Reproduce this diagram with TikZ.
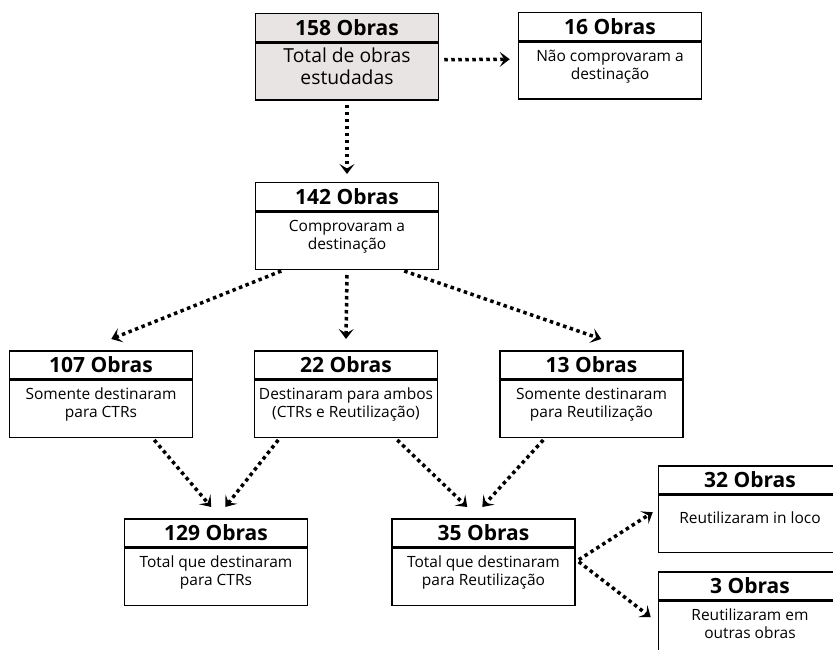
\documentclass[tikz,border=0pt]{standalone}
\usepackage{fontspec}
\setmainfont{Open Sans}
\usetikzlibrary{positioning,arrows.meta}

\definecolor{cinzaclaro}{RGB}{232,228,228}

\begin{document}
\begin{tikzpicture}[x=1pt, y=-1pt, line join=miter,
    cabeca/.style={draw, line width=1.5pt, minimum width=183pt, minimum height=28pt,
        inner sep=0pt, anchor=north, font=\bfseries\fontsize{21}{22}\selectfont},
    corpo/.style={draw, line width=1.5pt, minimum width=183pt, minimum height=57pt,
        inner sep=0pt, align=center, text depth=12pt, font=\fontsize{15.5}{18.5}\selectfont},
    seta/.style={line width=3.5pt, dash pattern=on 3.5pt off 3.5pt,
        -{Stealth[length=10pt, width=15pt, inset=4.5pt]}}]

    \useasboundingbox (0,0) rectangle (833,650);
    \clip (0,0) rectangle (833,650);

    % Obras estudadas
    \node[cabeca, fill=cinzaclaro] (h158) at (347,13) {158 Obras};
    \node[corpo, fill=cinzaclaro, below=0pt of h158, text depth=11pt, font=\fontsize{19.3}{22}\selectfont] (c158) {Total de obras\\estudadas};

    \node[cabeca] (h16) at (610,12) {16 Obras};
    \node[corpo, below=0pt of h16] (c16) {Não comprovaram a\\destinação};

    \node[cabeca] (h142) at (347,182) {142 Obras};
    \node[corpo, below=0pt of h142] (c142) {Comprovaram a\\destinação};

    % Tipo de destinação
    \node[cabeca] (h107) at (101,350) {107 Obras};
    \node[corpo, below=0pt of h107] (c107) {Somente destinaram\\para CTRs};

    \node[cabeca] (h22) at (346,350) {22 Obras};
    \node[corpo, below=0pt of h22] (c22) {Destinaram para ambos\\(CTRs e Reutilização)};

    \node[cabeca] (h13) at (591.5,350) {13 Obras};
    \node[corpo, below=0pt of h13] (c13) {Somente destinaram\\para Reutilização};

    % Totais
    \node[cabeca] (h129) at (216,518) {129 Obras};
    \node[corpo, below=0pt of h129] (c129) {Total que destinaram\\para CTRs};

    \node[cabeca] (h35) at (483.5,518) {35 Obras};
    \node[corpo, below=0pt of h35] (c35) {Total que destinaram\\para Reutilização};

    % Reutilização
    \node[cabeca] (h32) at (750,465) {32 Obras};
    \node[corpo, below=0pt of h32] (c32) {Reutilizaram in loco};

    \node[cabeca] (h3) at (750,571) {3 Obras};
    \node[corpo, below=0pt of h3] (c3) {Reutilizaram em\\outras obras};

    % Linha grossa entre titulo e texto
    \foreach \n in {158,16,142,107,22,13,129,35,32,3}
        \draw[line width=3pt] (h\n.south west) -- (h\n.south east);

    % Setas
    \draw[seta] ([xshift=5pt,yshift=12pt]c158.east) -- ([xshift=-8pt,yshift=11.5pt]c16.west);
    \draw[seta] ([yshift=-4pt]c158.south) -- ([yshift=8pt]h142.north);

    \draw[seta] ([xshift=26.5pt,yshift=-1pt]c142.south west) -- ([xshift=102.5pt,yshift=11pt]h107.north west);
    \draw[seta] ([yshift=-5pt]c142.south) -- ([yshift=11pt]h22.north);
    \draw[seta] ([xshift=149.5pt,yshift=-1pt]c142.south west) -- ([xshift=102pt,yshift=11pt]h13.north west);

    \draw[seta] ([xshift=145.5pt,yshift=-2pt]c107.south west) -- ([xshift=87.5pt,yshift=11pt]h129.north west);
    \draw[seta] ([xshift=24.5pt,yshift=-2pt]c22.south west) -- ([xshift=101.5pt,yshift=11pt]h129.north west);
    \draw[seta] ([xshift=143.5pt,yshift=-2pt]c22.south west) -- ([xshift=76pt,yshift=11pt]h35.north west);
    \draw[seta] ([xshift=44pt,yshift=-2pt]c13.south west) -- ([xshift=91pt,yshift=11pt]h35.north west);

    \draw[seta] ([xshift=3pt,yshift=17pt]c35.east) -- ([xshift=-5pt,yshift=11.5pt]c32.west);
    \draw[seta] ([xshift=3pt,yshift=15pt]c35.east) -- ([xshift=-7pt,yshift=12.5pt]c3.west);

\end{tikzpicture}
\end{document}
